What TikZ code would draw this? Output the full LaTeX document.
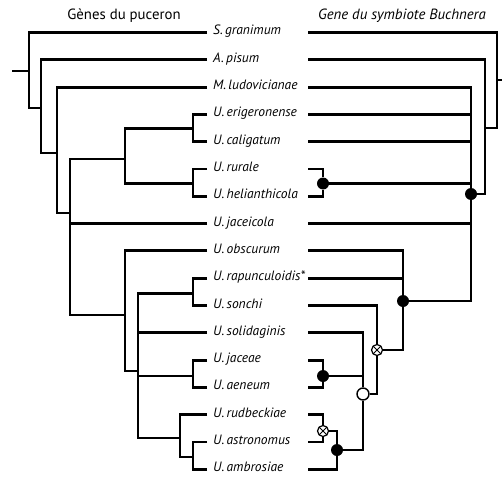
\documentclass[tikz,border=0pt]{standalone}
\usepackage{fontspec}
\setmainfont{PT Sans}
\usepackage{tikz}

\tikzset{
  branch/.style={line width=2.9pt, line join=miter},
  taxon/.style={anchor=mid west, inner sep=0pt, font=\fontsize{13.5}{15}\selectfont\itshape},
  header/.style={anchor=base, inner sep=0pt, font=\fontsize{14.8}{17}\selectfont},
  fulldot/.style={circle, fill=black, inner sep=0pt, minimum size=12pt},
  opendot/.style={circle, draw=black, fill=white, line width=1.4pt, inner sep=0pt, minimum size=12pt},
  crossdot/.style={circle, draw=black, fill=white, line width=1.2pt, inner sep=0pt, minimum size=11pt,
    path picture={\draw[line width=0.9pt] (path picture bounding box.north west)--(path picture bounding box.south east)
      (path picture bounding box.north east)--(path picture bounding box.south west);}}
}

\begin{document}
\begin{tikzpicture}[x=1pt, y=-1pt]
\useasboundingbox (0,0) rectangle (502,476);

\node[header] (hleft) at (124,20) {Gènes du puceron};
\node[header, font=\fontsize{14.8}{17}\selectfont\itshape] (hright) at (402,20) {Gene du symbiote Buchnera};

\foreach \sp [count=\i] in {S.\,granimum, A.\,pisum, M.\,ludovicianae, U.\,erigeronense, U.\,caligatum,
  U.\,rurale, U.\,helianthicola, U.\,jaceicola, U.\,obscurum, U.\,rapunculoidis*, U.\,sonchi,
  U.\,solidaginis, U.\,jaceae, U.\,aeneum, U.\,rudbeckiae, U.\,astronomus, U.\,ambrosiae} {
  \pgfmathsetmacro\yy{32.5+(\i-1)*27.3}
  \node[taxon] (t\i) at (213,\yy) {\sp};
  \coordinate (lt\i) at (207,\yy);
  \coordinate (rt\i) at (308,\yy);
}

% aphid tree
\coordinate (root) at (12,71);
\coordinate (a1) at (29,71);
\coordinate (a2) at (41,108);
\coordinate (a3) at (57,153);
\coordinate (a4) at (70,213);
\coordinate (a5) at (125,159);
\coordinate (a6) at (193,128.5);
\coordinate (a7) at (193,183.5);
\coordinate (a8) at (125,315);
\coordinate (a9) at (138,371);
\coordinate (a10) at (193,293.5);
\coordinate (a11) at (193,376);
\coordinate (a12) at (180,438);
\coordinate (a13) at (193,457);

\draw[branch] (root) -- (a1);
\draw[branch] (lt1) -| (a1) (a2) -| (a1);
\draw[branch] (lt2) -| (a2) (a3) -| (a2);
\draw[branch] (lt3) -| (a3) (a4) -| (a3);
\draw[branch] (a5) -| (a4) (lt8) -| (a4) (a8) -| (a4);
\draw[branch] (a6) -| (a5) (a7) -| (a5);
\draw[branch] (lt4) -| (a6) (lt5) -| (a6);
\draw[branch] (lt6) -| (a7) (lt7) -| (a7);
\draw[branch] (lt9) -| (a8) (a9) -| (a8);
\draw[branch] (a10) -| (a9) (lt12) -| (a9) (a11) -| (a9) (a12) -| (a9);
\draw[branch] (lt10) -| (a10) (lt11) -| (a10);
\draw[branch] (lt13) -| (a11) (lt14) -| (a11);
\draw[branch] (lt15) -| (a12) (a13) -| (a12);
\draw[branch] (lt16) -| (a13) (lt17) -| (a13);

% Buchnera tree
\coordinate (rroot) at (502,80);
\coordinate (b1) at (497,80);
\coordinate (b2) at (485,128);
\node[fulldot] (b3) at (471,194) {};
\node[fulldot] (b4) at (323,183.5) {};
\node[fulldot] (b5) at (403,301) {};
\node[crossdot] (b6) at (377,350) {};
\node[opendot] (b7) at (363,394) {};
\node[fulldot] (b8) at (323,376) {};
\node[fulldot] (b9) at (337,450) {};
\node[crossdot] (b10) at (323,431) {};

\draw[branch] (b1) -- (rroot);
\draw[branch] (rt1) -| (b1) (b2) -| (b1);
\draw[branch] (rt2) -| (b2) (b3) -| (b2);
\draw[branch] (rt3) -| (b3) (rt4) -| (b3) (rt5) -| (b3) (b4) -| (b3) (rt8) -| (b3) (b5) -| (b3);
\draw[branch] (rt6) -| (b4) (rt7) -| (b4);
\draw[branch] (rt9) -| (b5) (rt10) -| (b5) (b6) -| (b5);
\draw[branch] (rt11) -| (b6) (b7) -| (b6);
\draw[branch] (rt12) -| (b7) (b8) -| (b7) (b9) -| (b7);
\draw[branch] (rt13) -| (b8) (rt14) -| (b8);
\draw[branch] (b10) -| (b9) (rt17) -| (b9);
\draw[branch] (rt15) -| (b10) (rt16) -| (b10);

\end{tikzpicture}
\end{document}
